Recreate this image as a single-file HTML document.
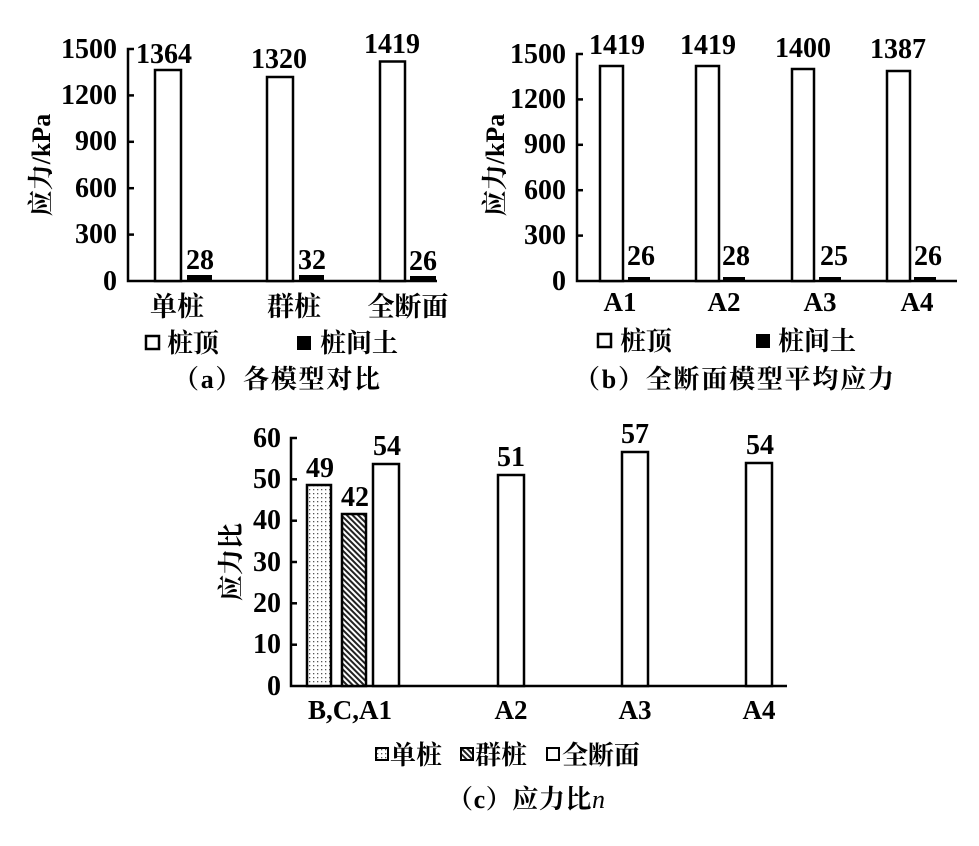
<!DOCTYPE html>
<html><head><meta charset="utf-8"><style>
html,body{margin:0;padding:0;background:#fff;}
svg{display:block;}
.n{font-family:"Liberation Serif",serif;font-weight:bold;font-size:28px;fill:#000;}
.c{font-family:"Liberation Serif","Noto Serif CJK SC",serif;font-size:26px;fill:#000;font-weight:bold;}
.cb{font-family:"Liberation Serif","Noto Serif CJK SC",serif;font-weight:bold;font-size:27px;fill:#000;}
</style></head><body>
<svg width="979" height="846" viewBox="0 0 979 846" xmlns="http://www.w3.org/2000/svg">
<defs>
<pattern id="dots" width="4" height="4" patternUnits="userSpaceOnUse"><rect width="4" height="4" fill="#fff"/><rect x="1" y="1" width="1.3" height="1.3" fill="#555"/></pattern>
<pattern id="hatch" width="4" height="4" patternUnits="userSpaceOnUse" patternTransform="rotate(-45)"><rect width="4" height="4" fill="#fff"/><rect width="2" height="4" fill="#222"/></pattern>
</defs>
<g stroke="#000" stroke-width="2.5" fill="none">
<polyline points="134,49 128,49 128,281 437,281"/>
<line x1="128" y1="95.4" x2="134" y2="95.4"/><line x1="128" y1="141.8" x2="134" y2="141.8"/><line x1="128" y1="188.2" x2="134" y2="188.2"/><line x1="128" y1="234.6" x2="134" y2="234.6"/>
<polyline points="583,54 577,54 577,281 957,281"/>
<line x1="577" y1="99.4" x2="583" y2="99.4"/><line x1="577" y1="144.8" x2="583" y2="144.8"/><line x1="577" y1="190.2" x2="583" y2="190.2"/><line x1="577" y1="235.6" x2="583" y2="235.6"/>
<polyline points="297,438 291,438 291,686 787,686"/>
<line x1="291" y1="479.3" x2="297" y2="479.3"/><line x1="291" y1="520.7" x2="297" y2="520.7"/><line x1="291" y1="562" x2="297" y2="562"/><line x1="291" y1="603.3" x2="297" y2="603.3"/><line x1="291" y1="644.7" x2="297" y2="644.7"/>
</g>
<g stroke="#000" stroke-width="2.5" fill="#fff">
<rect x="155" y="70" width="26" height="211"/>
<rect x="267" y="77" width="26" height="204"/>
<rect x="380" y="61.5" width="25" height="219.5"/>
<rect x="600" y="66" width="23" height="215"/>
<rect x="696" y="66" width="23" height="215"/>
<rect x="792" y="69" width="22" height="212"/>
<rect x="887" y="71" width="23" height="210"/>
<rect x="373" y="464" width="26" height="222"/>
<rect x="498" y="475" width="26" height="211"/>
<rect x="622" y="452" width="26" height="234"/>
<rect x="746" y="463" width="26" height="223"/>
<rect x="307" y="485" width="24" height="201" fill="url(#dots)"/>
<rect x="342" y="514" width="24" height="172" fill="url(#hatch)"/>
</g>
<g fill="#000">
<rect x="187" y="275" width="25" height="6"/>
<rect x="299" y="275" width="25" height="6"/>
<rect x="410" y="276" width="26" height="5"/>
<rect x="628" y="277" width="22" height="4"/>
<rect x="723" y="277" width="22" height="4"/>
<rect x="819" y="277" width="22" height="4"/>
<rect x="914" y="277" width="22" height="4"/>
</g>
<g class="n" text-anchor="end">
<text x="117" y="58">1500</text><text x="117" y="104">1200</text><text x="117" y="150">900</text><text x="117" y="197">600</text><text x="117" y="243">300</text><text x="117" y="290">0</text>
<text x="566" y="63">1500</text><text x="566" y="108">1200</text><text x="566" y="153">900</text><text x="566" y="199">600</text><text x="566" y="244">300</text><text x="566" y="290">0</text>
<text x="281" y="447">60</text><text x="281" y="488">50</text><text x="281" y="529">40</text><text x="281" y="571">30</text><text x="281" y="612">20</text><text x="281" y="653">10</text><text x="281" y="695">0</text>
</g>
<g class="n" text-anchor="middle">
<text x="164" y="63">1364</text><text x="200" y="269">28</text>
<text x="279" y="68">1320</text><text x="312" y="269">32</text>
<text x="392" y="53">1419</text><text x="423" y="270">26</text>
<text x="617" y="54">1419</text><text x="641" y="265">26</text>
<text x="708" y="54">1419</text><text x="736" y="265">28</text>
<text x="803" y="57">1400</text><text x="834" y="265">25</text>
<text x="898" y="58">1387</text><text x="928" y="265">26</text>
<text x="320" y="477">49</text><text x="355" y="506">42</text><text x="387" y="455">54</text>
<text x="511" y="466">51</text><text x="635" y="443">57</text><text x="760" y="454">54</text>
</g>
<g class="cb" text-anchor="middle">
<text x="177" y="316">单桩</text><text x="294" y="316">群桩</text><text x="408" y="316">全断面</text>
<text x="620" y="311">A1</text><text x="724" y="311">A2</text><text x="820" y="311">A3</text><text x="917" y="311">A4</text>
<text x="350" y="719">B,C,A1</text><text x="511" y="719">A2</text><text x="635" y="719">A3</text><text x="759" y="719">A4</text>
</g>
<text class="c" transform="translate(50,165) rotate(-90)" text-anchor="middle" font-size="28">应力/kPa</text>
<text class="c" transform="translate(504,165) rotate(-90)" text-anchor="middle" font-size="28">应力/kPa</text>
<text class="c" transform="translate(240,562) rotate(-90)" text-anchor="middle" font-size="28">应力比</text>
<rect x="146" y="336" width="13" height="13" fill="#fff" stroke="#000" stroke-width="2.5"/>
<text class="c" x="167" y="352">桩顶</text>
<rect x="297" y="336" width="14" height="14" fill="#000"/>
<text class="c" x="320" y="352">桩间土</text>
<rect x="598" y="334" width="13" height="13" fill="#fff" stroke="#000" stroke-width="2.5"/>
<text class="c" x="620" y="350">桩顶</text>
<rect x="756" y="334" width="14" height="14" fill="#000"/>
<text class="c" x="778" y="350">桩间土</text>
<rect x="376" y="748" width="12" height="12" fill="url(#dots)" stroke="#000" stroke-width="2"/>
<text class="c" x="390" y="764">单桩</text>
<rect x="461" y="748" width="12" height="12" fill="url(#hatch)" stroke="#000" stroke-width="2"/>
<text class="c" x="475" y="764">群桩</text>
<rect x="547" y="748" width="12" height="12" fill="#fff" stroke="#000" stroke-width="2"/>
<text class="c" x="562" y="764">全断面</text>
<text class="c" x="173" y="388" textLength="207" lengthAdjust="spacing">（<tspan font-weight="bold">a</tspan>）各模型对比</text>
<text class="c" x="574" y="388" textLength="320" lengthAdjust="spacing">（<tspan font-weight="bold">b</tspan>）全断面模型平均应力</text>
<text class="c" x="447" y="808" textLength="158" lengthAdjust="spacing">（<tspan font-weight="bold">c</tspan>）应力比<tspan font-style="italic" font-weight="normal">n</tspan></text>
</svg>
</body></html>
